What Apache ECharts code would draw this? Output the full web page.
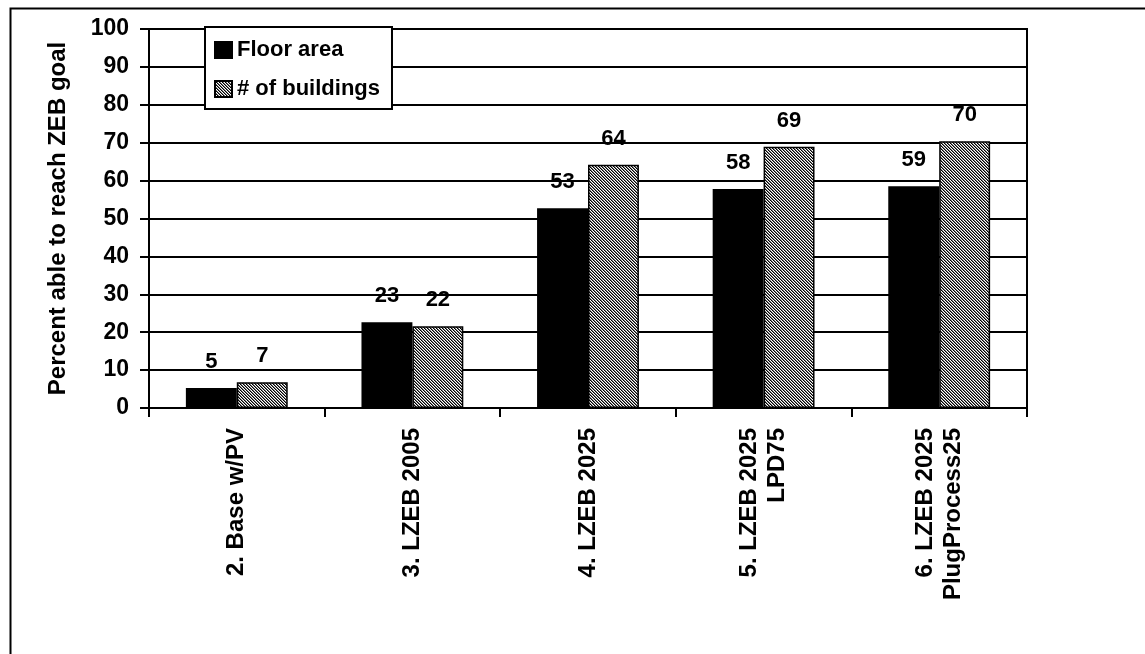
<!DOCTYPE html>
<html>
<head>
<meta charset="utf-8">
<script src="https://cdn.jsdelivr.net/npm/echarts@6/dist/echarts.min.js"></script>
<style>
html,body{margin:0;padding:0;background:#fff;}
#chart{width:1145px;height:654px;}
</style>
</head>
<body>
<div id="chart"></div>
<script>
const categories = ['2. Base w/PV', '3. LZEB 2005', '4. LZEB 2025', '5. LZEB 2025\nLPD75', '6. LZEB 2025\nPlugProcess25'];
const floorArea = [5.3, 22.6, 52.7, 57.8, 58.5];
const numBuildings = [6.8, 21.6, 64.2, 68.9, 70.4];
const seriesNames = ['Floor area', '# of buildings'];
const yTicks = { min: 0, max: 100, interval: 10 };

const FONT = '"Liberation Sans", Arial, sans-serif';

function hatch() {
  const c = document.createElement('canvas');
  c.width = 3; c.height = 3;
  const ctx = c.getContext('2d');
  ctx.fillStyle = '#ffffff';
  ctx.fillRect(0, 0, 3, 3);
  for (let i = 0; i < 3; i++) {
    ctx.fillStyle = '#000000';
    ctx.fillRect(i, i, 1, 1);
    ctx.fillStyle = '#7a7a7a';
    ctx.fillRect((i + 1) % 3, i, 1, 1);
  }
  return c;
}
const hatchPattern = { image: hatch(), repeat: 'repeat' };

const chart = echarts.init(document.getElementById('chart'));
const labelCfg = {
  show: true, position: 'top', distance: 15,
  color: '#000', fontFamily: FONT, fontWeight: 'bold', fontSize: 22,
  formatter: p => Math.round(p.value)
};
chart.setOption({
  animation: false,
  backgroundColor: '#fff',
  graphic: [{
    type: 'rect', left: 8, top: 6, z: -10,
    shape: { width: 1200, height: 700 },
    style: { fill: 'none', stroke: '#000', lineWidth: 2 }
  }],
  grid: { left: 149, top: 29, right: 118, bottom: 246, show: true, borderColor: '#000', borderWidth: 2, backgroundColor: 'transparent' },
  legend: {
    orient: 'vertical', left: 205, top: 27,
    backgroundColor: '#fff', borderColor: '#000', borderWidth: 2,
    padding: [12, 12, 9, 9], itemGap: 17, itemWidth: 17, itemHeight: 16,
    icon: 'rect',
    textStyle: { color: '#000', fontFamily: FONT, fontWeight: 'bold', fontSize: 22 },
    data: seriesNames
  },
  xAxis: {
    type: 'category', data: categories,
    axisLine: { lineStyle: { color: '#000', width: 2 } },
    axisTick: { show: true, length: 9, lineStyle: { color: '#000', width: 2 } },
    axisLabel: { rotate: 90, margin: 20, color: '#000', fontFamily: FONT, fontWeight: 'bold', fontSize: 24, lineHeight: 28 }
  },
  yAxis: {
    type: 'value', min: yTicks.min, max: yTicks.max, interval: yTicks.interval,
    name: 'Percent able to reach ZEB goal', nameLocation: 'middle', nameGap: 79, nameRotate: 90,
    nameTextStyle: { color: '#000', fontFamily: FONT, fontWeight: 'bold', fontSize: 24 },
    axisLine: { show: true, lineStyle: { color: '#000', width: 2 } },
    axisTick: { show: true, length: 9, lineStyle: { color: '#000', width: 2 } },
    axisLabel: { margin: 20, color: '#000', fontFamily: FONT, fontWeight: 'bold', fontSize: 23 },
    splitLine: { show: true, lineStyle: { color: '#000', width: 2 } }
  },
  series: [
    {
      name: seriesNames[0], type: 'bar', data: floorArea,
      barGap: '0%', barCategoryGap: '42%',
      itemStyle: { color: '#000', borderColor: '#000', borderWidth: 1.5 },
      label: labelCfg
    },
    {
      name: seriesNames[1], type: 'bar', data: numBuildings,
      barGap: '0%', barCategoryGap: '42%',
      itemStyle: { color: hatchPattern, borderColor: '#000', borderWidth: 1.5 },
      label: labelCfg
    }
  ]
});
</script>
</body>
</html>
